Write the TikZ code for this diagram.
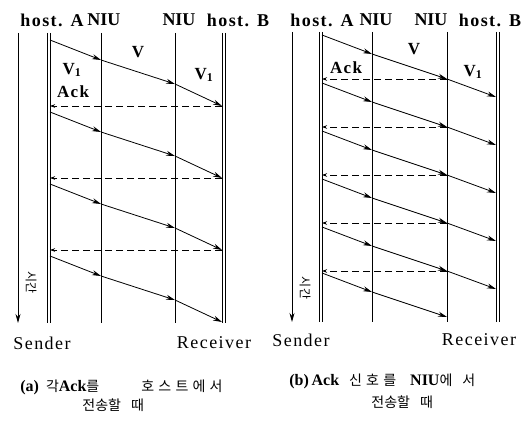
\documentclass[tikz,border=0pt]{standalone}
\usepackage{fontspec}
\setmainfont{Liberation Serif}
\newfontfamily\krfont{Noto Sans CJK KR}
\newfontfamily\krwide[LetterSpace=30]{Noto Sans CJK KR}
\newfontfamily\spcfont[LetterSpace=8]{Liberation Serif}
\usetikzlibrary{arrows.meta}
\newcommand\latb[1]{{\normalfont\fontsize{16}{18}\selectfont\bfseries #1}}

\begin{document}
\begin{tikzpicture}[x=1pt, y=-1pt, line width=0.8pt,
    >={Stealth[length=9pt,width=5pt]},
    msg/.style={->},
    ack/.style={dash pattern=on 7pt off 4pt, -{Stealth[length=5pt,width=3.5pt]}},
    hosthead/.style={font=\fontsize{18}{20}\spcfont\bfseries},
    head/.style={font=\fontsize{18}{20}\selectfont\bfseries},
    lab/.style={font=\fontsize{17}{19}\spcfont\bfseries},
    side/.style={font=\fontsize{18}{20}\spcfont},
    timetxt/.style={font=\fontsize{12}{14}\krfont, rotate=-90},
    captxt/.style={font=\fontsize{14}{16}\krwide, anchor=west, inner sep=0pt},
    captwo/.style={font=\fontsize{14}{16}\krfont, anchor=west, inner sep=0pt}]
    \useasboundingbox (0,0) rectangle (528,425);

    % Left panel (a): time axis and station lines
    \foreach \n/\x in {T/18, A1/47, A2/50, N1/101, N2/175, B1/222, B2/225} {
        \coordinate (a\n top) at (\x,33);
        \coordinate (a\n bot) at (\x,323);
    }
    \draw[->] (aTtop) -- (aTbot);
    \foreach \n in {A1, A2, N1, N2, B1, B2}
        \draw (a\n top) -- (a\n bot);

    % Left panel (a): frames A -> B, each Ack sent back from host B
    \foreach \s [count=\k] in {40,112,184,256} {
        \coordinate (a\k p0) at (50,\s);
        \coordinate (a\k p1) at (101,\s+20);
        \coordinate (a\k p2) at (175,\s+44);
        \coordinate (a\k p3) at (222,\s+66);
        \draw[msg] (a\k p0) -- (a\k p1);
        \draw[msg] (a\k p1) -- (a\k p2);
        \draw[msg] (a\k p2) -- (a\k p3);
        \ifnum\k<4
            \draw[ack] (a\k p3) -- (a\k p3 -| aA2top);
        \fi
    }

    % Right panel (b): time axis and station lines
    \foreach \n/\x in {T/292, A1/319, A2/322, N1/372, N2/447, B1/496, B2/499} {
        \coordinate (b\n top) at (\x,32);
        \coordinate (b\n bot) at (\x,322);
    }
    \draw[->] (bTtop) -- (bTbot);
    \foreach \n in {A1, A2, N1, N2, B1, B2}
        \draw (b\n top) -- (b\n bot);

    % Right panel (b): Ack sent back from the receiving NIU
    \foreach \s [count=\k] in {35,83,131,179,227,273} {
        \coordinate (b\k p0) at (322,\s);
        \coordinate (b\k p1) at (372,\s+19);
        \coordinate (b\k p2) at (447,\s+44);
        \coordinate (b\k p3) at (496,\s+62);
        \draw[msg] (b\k p0) -- (b\k p1);
        \draw[msg] (b\k p1) -- (b\k p2);
        \ifnum\k<6
            \draw[msg] (b\k p2) -- (b\k p3);
            \draw[ack] (b\k p2) -- (b\k p2 -| bA2top);
        \fi
    }

    % Station names
    \node[hosthead] (ahostA) at (52,20) {host. A};
    \node[head] (aniuA) at (104,20) {NIU};
    \node[head] (aniuB) at (179,20) {NIU};
    \node[hosthead] (ahostB) at (238,20) {host. B};
    \node[hosthead] (bhostA) at (322,20) {host. A};
    \node[head] (bniuA) at (376,20) {NIU};
    \node[head] (bniuB) at (431,20) {NIU};
    \node[hosthead] (bhostB) at (490,20) {host. B};

    % Frame and Ack labels
    \node[lab] (av1) at (72,70) {V\textsubscript{1}};
    \node[lab] (aack) at (73,92) {Ack};
    \node[lab] (av) at (138,52) {V};
    \node[lab] (av2) at (204,75) {V\textsubscript{1}};
    \node[lab] (bv) at (414,49) {V};
    \node[lab] (back) at (346,68) {Ack};
    \node[lab] (bv2) at (473,72) {V\textsubscript{1}};

    % Time labels
    \node[timetxt] (atime) at (31,283) {시간};
    \node[timetxt] (btime) at (305,288) {시간};

    % Sender and receiver
    \node[side] (asend) at (42,343) {Sender};
    \node[side] (arecv) at (214,343) {Receiver};
    \node[side] (bsend) at (301,340) {Sender};
    \node[side] (brecv) at (479,340) {Receiver};

    % Captions
    \node[captxt] (acap1) at (20,387) {\latb{(a)}\hspace{7pt}각\latb{Ack}를\hspace{42pt}호스트에서};
    \node[captwo] (acap2) at (82,405) {전송할\hspace{10pt}때};
    \node[captxt] (bcap1) at (289,381) {\latb{(b)\,Ack}\hspace{10pt}신호를\hspace{14pt}\latb{NIU}에\hspace{10pt}서};
    \node[captwo] (bcap2) at (371,402) {전송할\hspace{10pt}때};
\end{tikzpicture}
\end{document}
